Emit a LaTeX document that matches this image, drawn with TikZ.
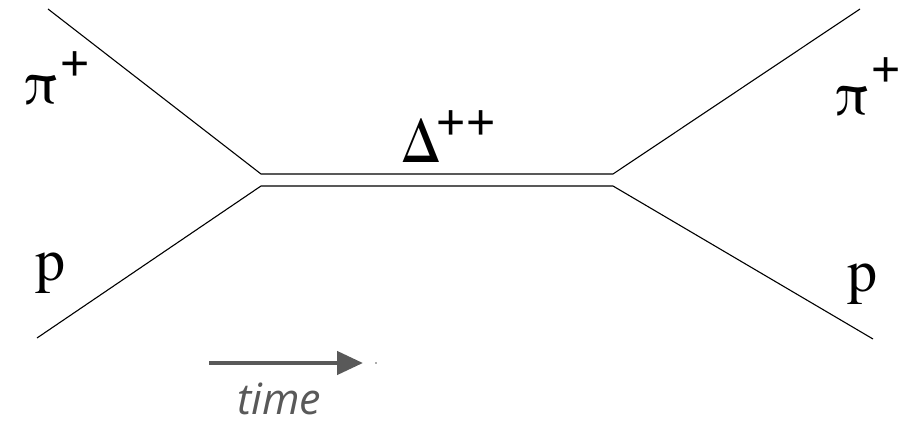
\documentclass[tikz,border=0pt]{standalone}
\usepackage{fontspec}
\newfontfamily\serifLbl{texgyretermes-regular.otf}
\newfontfamily\plusfont{Liberation Sans}
\newfontfamily\timefont{Open Sans}
\usetikzlibrary{arrows.meta}
\definecolor{timegray}{HTML}{595959}
\begin{document}
\begin{tikzpicture}[x=1pt,y=-1pt,
  prop/.style={draw=black,line width=1.1pt},
  lbl/.style={inner sep=0pt,font=\serifLbl\fontsize{60}{60}\selectfont},
  sup/.style={inner sep=0pt,font=\plusfont\fontsize{50}{50}\selectfont},
  timearrow/.style={draw=timegray,line width=4.5pt,-{Triangle[length=26pt,width=23pt]}}]
\useasboundingbox (0,0) rectangle (905,425);
% vertices and free ends
\coordinate (inPi) at (48,9);
\coordinate (inP) at (37,338);
\coordinate (vLu) at (261,174);
\coordinate (vLd) at (261,186);
\coordinate (vRu) at (613,174);
\coordinate (vRd) at (613,186);
\coordinate (outPi) at (860,9);
\coordinate (outP) at (873,339);
\draw[prop] (inPi) -- (vLu) -- (vRu) -- (outPi);
\draw[prop] (inP) -- (vLd) -- (vRd) -- (outP);
% labels
\node[lbl,anchor=base west] (piL) at (23,104) {π};
\node[sup] (plusL) at (75,66) {+};
\node[lbl,anchor=base west] (pL) at (35,280) {p};
\node[lbl,anchor=base west] (piR) at (834,115) {π};
\node[sup] (plusR) at (886,72) {+};
\node[lbl,anchor=base west] (pR) at (847,291) {p};
\node[lbl,anchor=base west] (delta) at (401,162) {Δ};
\node[sup] (plusD) at (466,125) {++};
% time arrow
\coordinate (tA) at (209,363);
\coordinate (tB) at (363,363);
\draw[timearrow] (tA) -- (tB);
\fill[timegray] (376,363) circle (0.9pt);
\node[inner sep=0pt,text=timegray,font=\timefont\itshape\fontsize{43}{43}\selectfont,anchor=base] (time) at (279,414) {time};
\end{tikzpicture}
\end{document}
